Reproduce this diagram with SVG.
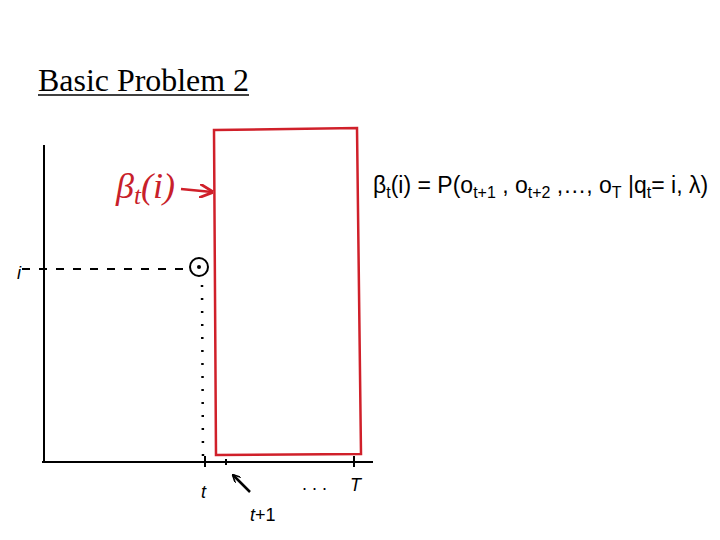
<svg xmlns="http://www.w3.org/2000/svg" width="720" height="540" viewBox="0 0 720 540">
<style>
.ax{stroke:#000;stroke-width:2;fill:none}
.red{stroke:#d0202a;stroke-width:2.5;fill:none}
.sans{font-family:"Liberation Sans",Arial,sans-serif;fill:#000}
.ser{font-family:"Liberation Serif","Times New Roman",serif}
</style>
<defs>
<marker id="ah" viewBox="0 0 10 10" refX="9" refY="5" markerWidth="8" markerHeight="8" orient="auto" markerUnits="userSpaceOnUse">
<path d="M0,0 L10,5 L0,10" fill="none" stroke="#000" stroke-width="2"/>
</marker>
<marker id="ahr" viewBox="0 0 10 10" refX="9" refY="5" markerWidth="14" markerHeight="14" orient="auto" markerUnits="userSpaceOnUse">
<path d="M0,0 L10,5 L0,10" fill="none" stroke="#d0202a" stroke-width="2"/>
</marker>
</defs>
<rect width="720" height="540" fill="#fff"/>
<g id="title">
<text class="ser" x="38" y="91" font-size="32" textLength="211" lengthAdjust="spacingAndGlyphs">Basic Problem 2</text>
<line x1="38" y1="95" x2="249" y2="95" stroke="#000" stroke-width="1.5"/>
</g>
<g id="axes">
<line class="ax" x1="44" y1="145" x2="44" y2="463"/>
<line class="ax" x1="42" y1="462" x2="373" y2="462"/>
<line class="ax" x1="205" y1="456" x2="205" y2="467" stroke-width="1.5"/>
<line class="ax" x1="226" y1="459" x2="226" y2="465" stroke-width="1.5"/>
<line class="ax" x1="354" y1="456" x2="354" y2="467" stroke-width="1.5"/>
</g>
<g id="window">
<path class="red" d="M214,130 L357,128 L361,454 L216,455 Z"/>
</g>
<g id="beta-label">
<text class="ser" x="116" y="198" font-size="36" font-style="italic" fill="#c8202a">β<tspan font-size="25" dy="6">t</tspan><tspan dy="-6">(i)</tspan></text>
</g>
<g id="formula">
<text class="sans" x="373" y="193" font-size="23">β<tspan font-size="16" dy="5">t</tspan><tspan dy="-5">(i) = P(o</tspan><tspan font-size="16" dy="5">t+1</tspan><tspan dy="-5"> , o</tspan><tspan font-size="16" dy="5">t+2</tspan><tspan dy="-5"> ,…, o</tspan><tspan font-size="16" dy="5">T</tspan><tspan dy="-5"> |q</tspan><tspan font-size="16" dy="5">t</tspan><tspan dy="-5">= i, λ)</tspan></text>
</g>
<g id="state-i">
<text class="sans" x="17" y="279" font-size="18" font-style="italic">i</text>
<circle cx="199" cy="267" r="9" fill="none" stroke="#000" stroke-width="2"/>
<circle cx="199" cy="267" r="2" fill="#000"/>
</g>
<g id="tick-labels">
<text class="sans" x="201" y="498" font-size="18" font-style="italic">t</text>
<text class="sans" x="250" y="521" font-size="18"><tspan font-style="italic">t</tspan>+1</text>
<text class="sans" x="302" y="490" font-size="18">. . .</text>
<text class="sans" x="350" y="491" font-size="18" font-style="italic">T</text>
</g>
<g id="connectors">
<line x1="181" y1="189" x2="212" y2="192" stroke="#d0202a" stroke-width="2.5" marker-end="url(#ahr)"/>
<line x1="22" y1="269" x2="189" y2="269" stroke="#000" stroke-width="2" stroke-dasharray="8,9"/>
<line x1="202" y1="285" x2="203" y2="458" stroke="#000" stroke-width="2.5" stroke-dasharray="2,11"/>
<line x1="250" y1="492" x2="233" y2="475" stroke="#000" stroke-width="2.5" marker-end="url(#ah)"/>
</g>
</svg>
